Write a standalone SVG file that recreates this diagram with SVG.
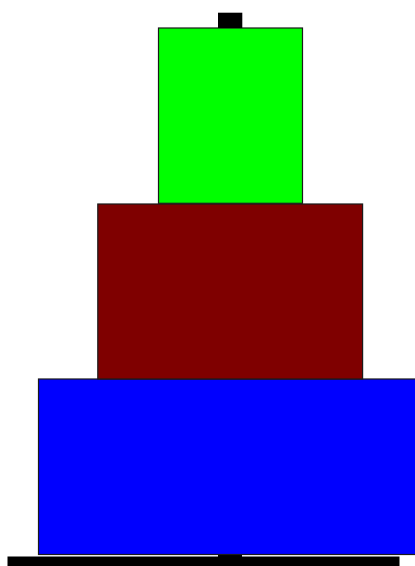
<svg xmlns="http://www.w3.org/2000/svg" width="415" height="566" viewBox="0 0 415 566">
<style>
.blk{fill:#000000}
.tier{stroke:#1a1a1a;stroke-width:1.2}
</style>
<rect width="415" height="566" fill="#ffffff"/>
<g id="base">
<rect class="blk" x="7.5" y="556.5" width="392" height="10"/>
<rect class="blk" x="218" y="552" width="24" height="5"/>
</g>
<g id="tier-blue">
<rect class="tier" x="38.5" y="379" width="380" height="175.5" fill="#0000ff" stroke="#1a1a60"/>
</g>
<g id="tier-maroon">
<rect class="tier" x="97.8" y="204" width="264.8" height="175" fill="#7f0000"/>
</g>
<g id="tier-green">
<rect class="tier" x="158.5" y="28" width="144" height="175.3" fill="#00ff00"/>
</g>
<g id="top">
<rect class="blk" x="218" y="12.7" width="24.3" height="15.3"/>
</g>
</svg>
